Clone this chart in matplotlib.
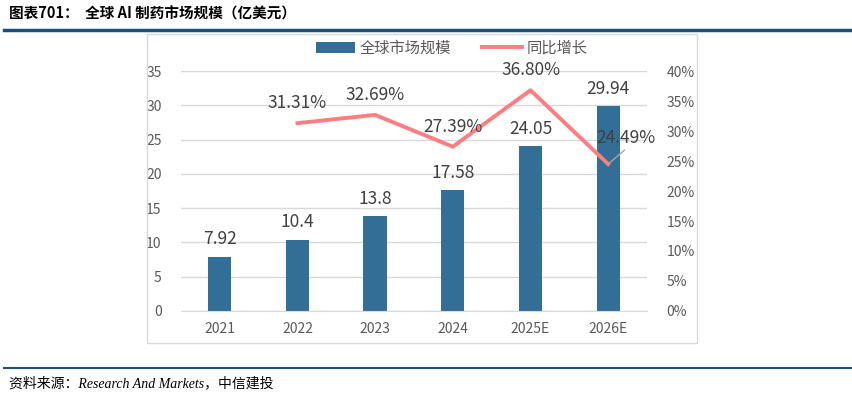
import matplotlib.pyplot as plt
from matplotlib.patches import Rectangle
from matplotlib.lines import Line2D

plt.rcParams['font.family'] = ['Noto Sans CJK SC', 'DejaVu Sans']

years = ['2021', '2022', '2023', '2024', '2025E', '2026E']
market = [7.92, 10.4, 13.8, 17.58, 24.05, 29.94]
growth_years = ['2022', '2023', '2024', '2025E', '2026E']
growth = [31.31, 32.69, 27.39, 36.80, 24.49]

bar_color = '#336E96'
line_color = '#FF7C80'
txt = '#404040'

fig = plt.figure(figsize=(8.52, 3.94), dpi=100)

# header / footer
fig.text(0.01, 0.965, '图表701：  全球 AI 制药市场规模（亿美元）', fontsize=10.5,
         fontweight='bold', va='center', ha='left', color='black')
fig.add_artist(Line2D([0.005, 1.0], [0.924, 0.924], color='#1F4E79', lw=2.5))
fig.add_artist(Line2D([0.005, 1.0], [0.066, 0.066], color='#1F4E79', lw=1.5))
fig.text(0.01, 0.028, '资料来源：Research And Markets，中信建投', fontsize=10,
         style='italic', va='center', ha='left', color='black',
         family=['Liberation Serif', 'Noto Sans CJK SC'])

# chart frame
fig.add_artist(Rectangle((0.1725, 0.1294), 0.6455, 0.7843, transform=fig.transFigure,
                         fill=False, edgecolor='#D9D9D9', lw=1))

ax = fig.add_axes([0.2124, 0.2107, 0.547, 0.609])
x = list(range(len(years)))
bars = ax.bar(x, market, width=0.3, color=bar_color, label='全球市场规模', zorder=2)
ax.set_ylim(0, 35)
ax.set_yticks(range(0, 36, 5))
ax.set_xlim(-0.5, len(years) - 0.5)
ax.set_xticks(x)
ax.set_xticklabels(years)
ax.grid(axis='y', color='#D9D9D9', lw=1, zorder=0)
for s in ax.spines.values():
    s.set_visible(False)
ax.spines['bottom'].set_visible(True)
ax.spines['bottom'].set_color('#D9D9D9')
ax.tick_params(length=0, labelsize=10, colors='#595959', pad=8)
ax.tick_params(axis='y', pad=14)

for xi, v in zip(x, market):
    ax.text(xi, v + 1.2, f'{v:g}', ha='center', va='bottom', fontsize=12.5, color=txt)

ax2 = ax.twinx()
gx = [years.index(y) for y in growth_years]
ax2.plot(gx, growth, color=line_color, lw=2.8, label='同比增长', zorder=3)
ax2.set_ylim(0, 40)
ax2.set_yticks(range(0, 41, 5))
ax2.set_yticklabels([f'{v}%' for v in range(0, 41, 5)])
for s in ax2.spines.values():
    s.set_visible(False)
ax2.tick_params(length=0, labelsize=10, colors='#595959', pad=14)

for xi, v in zip(gx[:-1], growth[:-1]):
    ax2.text(xi, v + 1.8, f'{v:.2f}%', ha='center', va='bottom', fontsize=12.5, color=txt)
# last label with leader line
ax2.annotate(f'{growth[-1]:.2f}%', xy=(gx[-1], growth[-1]), xytext=(gx[-1] - 0.15, 28.8),
             fontsize=12.5, color=txt, ha='left', va='center',
             arrowprops=dict(arrowstyle='-', color='#A6A6A6', lw=1, shrinkA=0, shrinkB=0,
                             relpos=(0.6, 0.2)))

h1, l1 = ax.get_legend_handles_labels()
h2, l2 = ax2.get_legend_handles_labels()
fig.legend(h1 + h2, l1 + l2, loc='center', bbox_to_anchor=(0.53, 0.878), ncol=2,
           frameon=False, fontsize=11, labelcolor='#595959', handlelength=2.6,
           columnspacing=2.0, handletextpad=0.3)

fig.savefig('out.png', dpi=100)
